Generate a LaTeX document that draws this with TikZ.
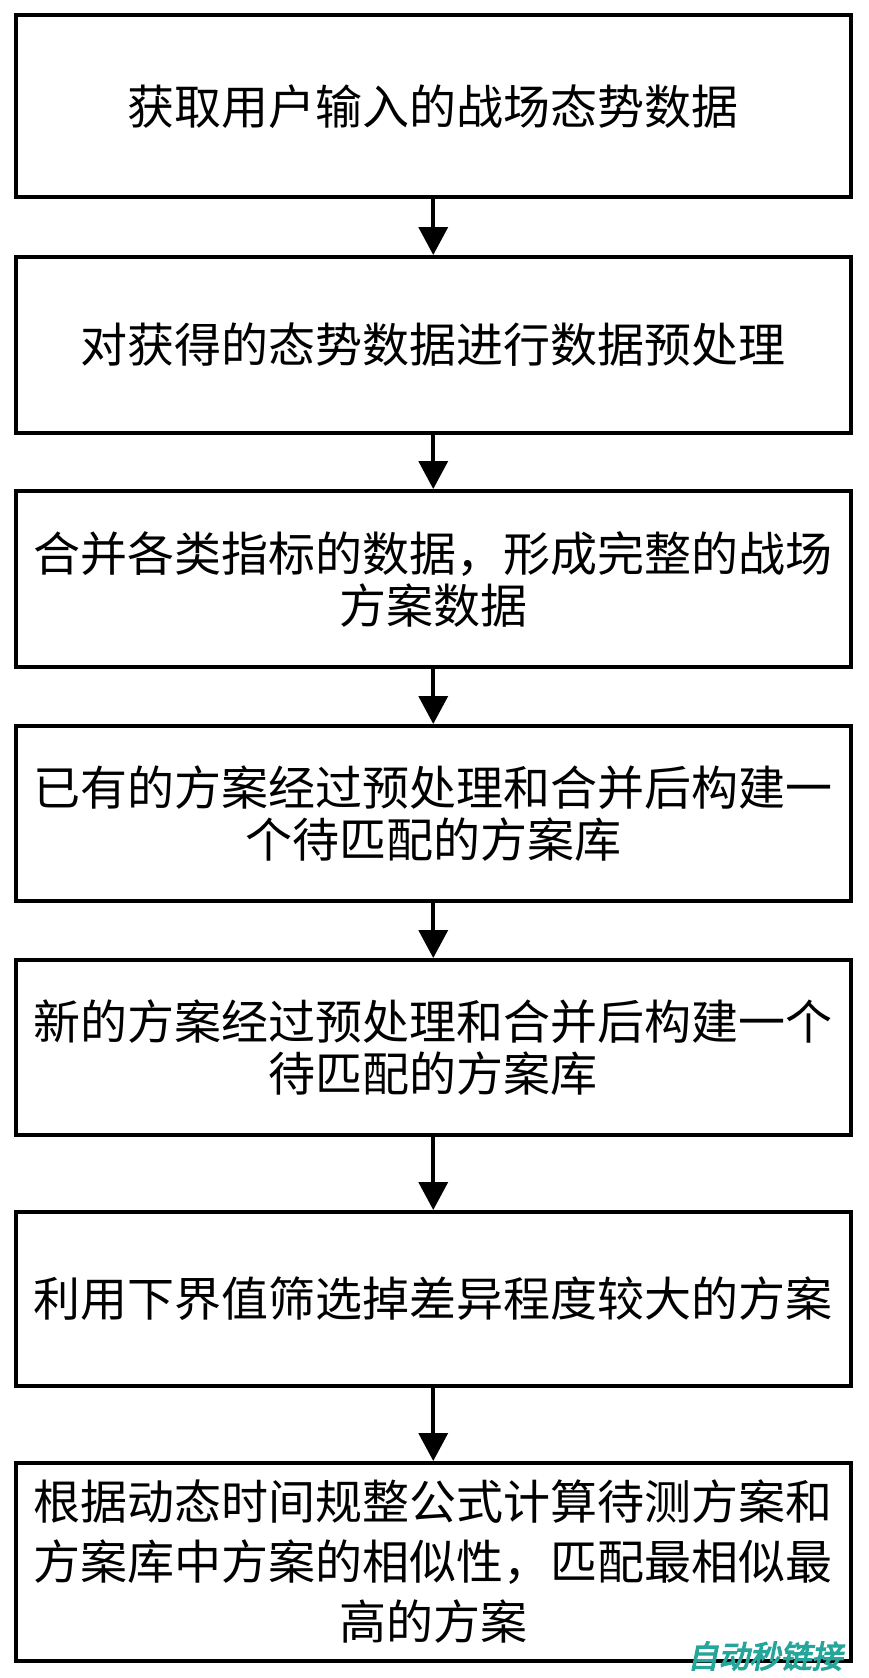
\documentclass[tikz,border=0pt]{standalone}
\usepackage{fontspec}
\newfontfamily\cjk{Noto Sans CJK SC}
\newfontfamily\wmfont[FakeSlant=0.2,FakeBold=4]{Noto Sans CJK SC}
\usetikzlibrary{arrows.meta}
\definecolor{wmteal}{RGB}{38,166,154}
\tikzset{
  stepbox/.style={draw=black, line width=4pt, minimum width=835.5pt, inner sep=0pt,
    align=center, font=\cjk\fontsize{47pt}{52pt}\selectfont},
  flowarr/.style={line width=3.7pt, -{Triangle[width=29pt,length=28pt]}},
}
\begin{document}
\begin{tikzpicture}[x=1pt,y=-1pt]
\useasboundingbox (0,0) rectangle (868,1678);
\node[stepbox, minimum height=181.5pt] (b1) at (433.25,106.25) {获取用户输入的战场态势数据};
\node[stepbox, minimum height=176pt] (b2) at (433.25,345) {对获得的态势数据进行数据预处理};
\node[stepbox, minimum height=176pt] (b3) at (433.25,579) {合并各类指标的数据，形成完整的战场\\方案数据};
\node[stepbox, minimum height=175pt] (b4) at (433.25,813.5) {已有的方案经过预处理和合并后构建一\\个待匹配的方案库};
\node[stepbox, minimum height=175pt] (b5) at (433.25,1047.5) {新的方案经过预处理和合并后构建一个\\待匹配的方案库};
\node[stepbox, minimum height=174pt] (b6) at (433.25,1299) {利用下界值筛选掉差异程度较大的方案};
\node[stepbox, minimum height=198pt, font=\cjk\fontsize{47pt}{60pt}\selectfont] (b7) at (433.25,1562) {根据动态时间规整公式计算待测方案和\\方案库中方案的相似性，匹配最相似最\\高的方案};
\draw[flowarr] (b1.south) -- (b2.north);
\draw[flowarr] (b2.south) -- (b3.north);
\draw[flowarr] (b3.south) -- (b4.north);
\draw[flowarr] (b4.south) -- (b5.north);
\draw[flowarr] (b5.south) -- (b6.north);
\draw[flowarr] (b6.south) -- (b7.north);
\node[text=wmteal, font=\wmfont\fontsize{31pt}{31pt}\selectfont, inner sep=0pt] (wm) at (765,1656) {自动秒链接};
\end{tikzpicture}
\end{document}
